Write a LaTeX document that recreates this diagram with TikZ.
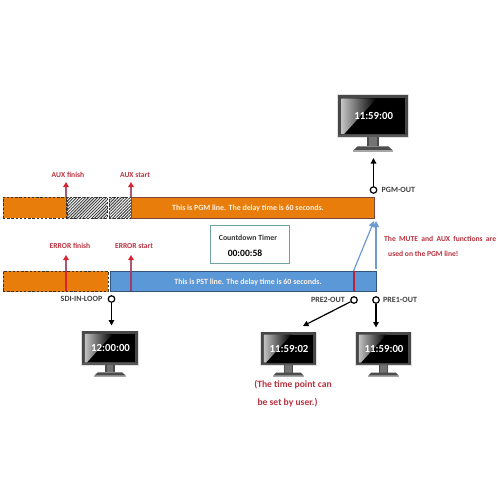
\documentclass[tikz,border=0pt]{standalone}
\usepackage{fontspec}
\setmainfont{Carlito}
\usetikzlibrary{patterns.meta,arrows.meta}
\definecolor{barorange}{HTML}{E87D0C}
\definecolor{barblue}{HTML}{5B98D8}
\definecolor{lblred}{HTML}{B8323F}
\definecolor{arrowred}{HTML}{D9232E}
\definecolor{shaftblue}{HTML}{6F9BD0}
\definecolor{tickmauve}{HTML}{A83A6A}
\definecolor{tickcrim}{HTML}{C01F3A}
\tikzset{
  x=1pt,y=-1pt,
  barbox/.style={minimum height=21pt,inner sep=0,outer sep=0,anchor=north west},
  dashbox/.style={barbox,draw=black!80,dashed,dash pattern=on 2.4pt off 1.8pt,line width=.7pt},
  hatchbox/.style={dashbox,pattern={Lines[angle=45,distance=2.1pt,line width=.95pt]},pattern color=black!75},
  solidorange/.style={barbox,fill=barorange,draw=barorange!70!black!80!blue,line width=.8pt},
  solidblue/.style={barbox,fill=barblue,draw=barblue!55!black,line width=.9pt},
  bartext/.style={text=white!90!orange,font=\fontsize{7.9}{9}\selectfont\bfseries},
  redlbl/.style={text=lblred,font=\fontsize{7.6}{9}\selectfont\bfseries,inner sep=0},
  outlbl/.style={text=black!75,font=\fontsize{8}{9}\selectfont\bfseries,inner sep=0},
  port/.style={circle,draw=black,fill=white,line width=1.2pt,minimum size=6.5pt,inner sep=0},
  upred/.style={draw=arrowred!55!shaftblue,line width=1.2pt,-{Triangle[length=5pt,width=5.5pt,color=arrowred]}},
  upblue/.style={draw=shaftblue,line width=1.2pt,-{Triangle[length=6pt,width=6pt]}},
  blk/.style={draw=black,line width=1.2pt,-{Triangle[length=5.5pt,width=5.5pt]}},
  redtick/.style={line width=2pt},
}
% name, left, top, width, height, text, font size
\newcommand{\monitordraw}[7]{%
  \begin{scope}[shift={(#2,#3)},x=#4pt/100,y=-#5pt/100]
    \fill[black!12] (-1,-1) rectangle (101,75);
    \fill[black!72] (0,0) rectangle (100,74);
    \fill[black] (5,6) rectangle (95,68);
    \shade[left color=black!24,right color=black] (5,6) -- (55,6) -- (9,68) -- (5,68) -- cycle;
    \fill[black!65] (0,70) rectangle (100,74);
    \fill[black!70] (41,74) rectangle (59,90);
    \fill[black!55] (44,74) rectangle (56,90);
    \fill[black!70] (28,90) -- (72,90) -- (78,97) -- (22,97) -- cycle;
    \fill[black!35] (22,97) rectangle (78,100);
    \node[text=white,font=\fontsize{#7}{#7}\selectfont\bfseries,inner sep=0] (#1) at (51,37) {#6};
  \end{scope}}
\begin{document}
\begin{tikzpicture}
\useasboundingbox[fill=white] (0,0) rectangle (500,500);
% PGM line
\node[dashbox,fill=barorange,minimum width=64pt] (pgmA) at (3,197) {};
\node[hatchbox,minimum width=41pt] (pgmB) at (66,197) {};
\node[hatchbox,minimum width=22pt] (pgmC) at (109,197) {};
\node[solidorange,minimum width=243pt] (pgmD) at (131,197) {};
\node[bartext] (pgmtxt) at (248,208.5) {This is PGM line. The delay time is 60 seconds.};
% PST line
\node[dashbox,fill=barorange,minimum width=105pt,minimum height=20.5pt] (pstA) at (3,271) {};
\node[solidblue,minimum width=266pt,minimum height=20.5pt] (pstB) at (110,271) {};
\node[bartext] (psttxt) at (248,282.5) {This is PST line. The delay time is 60 seconds.};
% labels
\node[redlbl] (auxf) at (68,175) {AUX finish};
\node[redlbl] (auxs) at (135,175) {AUX start};
\node[redlbl] (errf) at (70,246) {ERROR finish};
\node[redlbl] (errs) at (134,246) {ERROR start};
% coords
\coordinate (a1b) at (66,197); \coordinate (a1t) at (66,182);
\coordinate (a2b) at (131,197); \coordinate (a2t) at (131,182);
\coordinate (e1b) at (66,291); \coordinate (e1m) at (66,271); \coordinate (e1t) at (66,255);
\coordinate (e2b) at (131,291); \coordinate (e2m) at (131,271); \coordinate (e2t) at (131,255);
\coordinate (pzb) at (353.5,291); \coordinate (pzt) at (353.5,271);
\coordinate (b2t) at (374,221); \coordinate (b1b) at (376,269); \coordinate (b1t) at (376,221);
\draw[upred] (a1b) -- (a1t);
\draw[upred] (a2b) -- (a2t);
\draw[redtick,draw=arrowred] (e1b) -- (e1m);
\draw[upred] (e1m) -- (e1t);
\draw[redtick,draw=tickmauve] (e2b) -- (e2m);
\draw[upred] (e2m) -- (e2t);
\draw[upblue] (pzt) -- (b2t);
\draw[upblue] (b1b) -- (b1t);
\draw[redtick,draw=tickcrim] (pzb) -- (pzt);
% timer
\node[draw=black!35!teal!55,line width=.8pt,minimum width=79pt,minimum height=38pt,inner sep=0,anchor=north west] (timer) at (210,225) {};
\node[text=black!80,font=\fontsize{7.8}{9}\selectfont\bfseries,inner sep=0] (timerA) at (248,238) {Countdown Timer};
\node[text=black,font=\fontsize{9.6}{10}\selectfont\bfseries,inner sep=0] (timerB) at (245,253) {00:00:58};
% red notes
\node[redlbl,anchor=west] (note1) at (384,239) {The\hspace{1.5pt} MUTE\hspace{1.5pt} and\hspace{1.5pt} AUX\hspace{1.5pt} functions\hspace{1.5pt} are};
\node[redlbl,anchor=west] (note2) at (388,254) {used on the PGM line!};
\node[redlbl,font=\fontsize{9.6}{11}\selectfont\bfseries] (user1) at (293,385) {(The time point can};
\node[redlbl,font=\fontsize{9.6}{11}\selectfont\bfseries] (user2) at (287.5,403) {be set by user.)};
% monitors
\monitordraw{mPGM}{338}{95}{70}{57}{11:59:00}{10.8}
\monitordraw{mSDI}{82}{331}{56}{46}{12:00:00}{10.8}
\monitordraw{mPREb}{261}{332}{55}{45}{11:59:02}{10.8}
\monitordraw{mPREa}{356}{332}{55}{45}{11:59:00}{10.8}
% ports
\node[port] (pPGM) at (373.5,190) {};
\node[port] (pSDI) at (111.5,299) {};
\node[port] (pPREb) at (354,300) {};
\node[port] (pPREa) at (376,300) {};
\node[outlbl,anchor=west] (lPGM) at (381.5,190) {PGM-OUT};
\node[outlbl,anchor=east] (lSDI) at (102.5,299) {SDI-IN-LOOP};
\node[outlbl,anchor=east] (lPREb) at (345,300) {PRE2-OUT};
\node[outlbl,anchor=west] (lPREa) at (383,300) {PRE1-OUT};
\coordinate (tPGM) at (373.5,158);
\coordinate (tSDI) at (111.5,325.5);
\coordinate (tPREb) at (303,326);
\coordinate (tPREa) at (376,327.5);
\draw[blk] (pPGM) -- (tPGM);
\draw[blk] (pSDI) -- (tSDI);
\draw[blk] (pPREb) -- (tPREb);
\draw[blk] (pPREa) -- (tPREa);
\end{tikzpicture}
\end{document}
